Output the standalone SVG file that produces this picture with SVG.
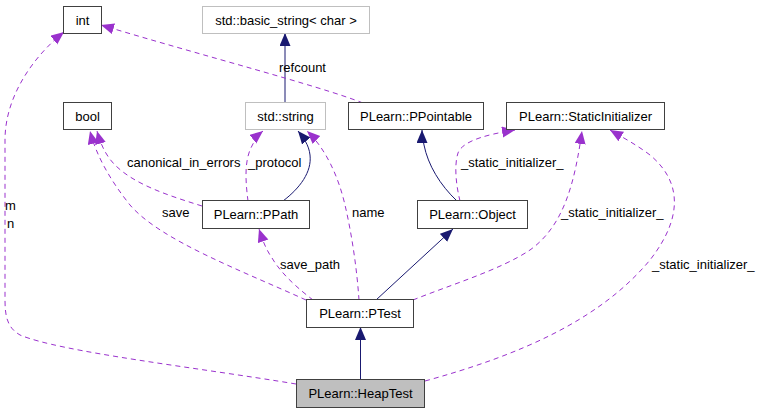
<svg xmlns="http://www.w3.org/2000/svg" width="763" height="413" viewBox="0 0 763 413">
<style>
.n rect{fill:#ffffff;stroke:#404040;stroke-width:1}
.g rect{stroke:#bfbfbf}
.h rect{fill:#bfbfbf;stroke:#404040}
text{font-family:"Liberation Sans",Arial,sans-serif;font-size:13px;fill:#000000}
.n text{text-anchor:middle}
.b{fill:none;stroke:#191970;stroke-width:1}
.p{fill:none;stroke:#9a32cd;stroke-width:1;stroke-dasharray:5,4}
</style>
<defs>
<marker id="ab" markerUnits="userSpaceOnUse" markerWidth="14" markerHeight="12" refX="13" refY="5.5" orient="auto"><path d="M0,0 L13,5.5 L0,11 z" fill="#191970"/></marker>
<marker id="ap" markerUnits="userSpaceOnUse" markerWidth="14" markerHeight="12" refX="13" refY="5.5" orient="auto"><path d="M0,0 L13,5.5 L0,11 z" fill="#9a32cd"/></marker>
</defs>
<g id="edges">
<path class="b" marker-end="url(#ab)" d="M285,103 L285,33"/>
<path class="p" marker-end="url(#ap)" d="M363,103 C320,86 200,55 101,25"/>
<text x="279" y="72">refcount</text>
<path class="p" marker-end="url(#ap)" d="M296,384 C200,368 60,352 20,335 C8,328 5,318 5,300 L5,140 C5,95 35,55 64,32"/>
<text x="5" y="210">m</text>
<text x="7" y="228">n</text>
<path class="p" marker-end="url(#ap)" d="M202,206 C170,196 135,185 115,165 C105,155 100,142 97,131"/>
<text x="127" y="167">canonical_in_errors</text>
<path class="p" marker-end="url(#ap)" d="M306,300 C240,270 160,240 130,205 C110,180 96,155 90,131"/>
<text x="162" y="217">save</text>
<path class="p" marker-end="url(#ap)" d="M248,201 C246,185 244,165 250,150 C254,141 258,135 263,131"/>
<text x="248" y="167">_protocol</text>
<path class="b" marker-end="url(#ab)" d="M283,201 C300,188 312,172 310,155 C309,145 303,137 298,131"/>
<path class="p" marker-end="url(#ap)" d="M359,300 C357,270 352,235 345,205 C338,175 325,148 307,131"/>
<text x="352" y="217">name</text>
<path class="p" marker-end="url(#ap)" d="M313,300 C300,290 282,275 272,258 C265,248 262,238 259,229"/>
<text x="280" y="269">save_path</text>
<path class="b" marker-end="url(#ab)" d="M457,201 C440,185 428,165 424,145 C423,140 422,135 422,130"/>
<path class="p" marker-end="url(#ap)" d="M460,201 C456,185 454,165 458,153 C463,140 490,134 515,130"/>
<text x="461" y="167">_static_initializer_</text>
<path class="p" marker-end="url(#ap)" d="M413,300 C450,285 500,270 530,250 C565,225 575,180 582,131"/>
<text x="561" y="217">_static_initializer_</text>
<path class="p" marker-end="url(#ap)" d="M425,381 C520,355 600,320 650,260 C685,215 680,180 650,155 C637,145 622,137 610,130"/>
<text x="652" y="269">_static_initializer_</text>
<path class="b" marker-end="url(#ab)" d="M376,300 L453,229"/>
<path class="b" marker-end="url(#ab)" d="M360.5,380 L360.5,327"/>
</g>
<g id="int" class="n"><rect x="63.5" y="6.5" width="38" height="27"/><text x="82.5" y="24.5">int</text></g>
<g id="basic_string" class="n g"><rect x="202.5" y="6.5" width="167" height="27"/><text x="286" y="24.5">std::basic_string&lt; char &gt;</text></g>
<g id="bool" class="n"><rect x="63.5" y="102.5" width="48" height="27"/><text x="87.5" y="120.5">bool</text></g>
<g id="std_string" class="n g"><rect x="245.5" y="102.5" width="80" height="27"/><text x="285.5" y="120.5">std::string</text></g>
<g id="PPointable" class="n"><rect x="348.5" y="102.5" width="135" height="27"/><text x="416" y="120.5">PLearn::PPointable</text></g>
<g id="StaticInitializer" class="n"><rect x="506.5" y="102.5" width="158" height="27"/><text x="585.5" y="120.5">PLearn::StaticInitializer</text></g>
<g id="PPath" class="n"><rect x="202.5" y="200.5" width="107" height="28"/><text x="256" y="219">PLearn::PPath</text></g>
<g id="Object" class="n"><rect x="417.5" y="200.5" width="110" height="28"/><text x="472.5" y="219">PLearn::Object</text></g>
<g id="PTest" class="n"><rect x="306.5" y="299.5" width="107" height="28"/><text x="360" y="318">PLearn::PTest</text></g>
<g id="HeapTest" class="n h"><rect x="296.5" y="379.5" width="128" height="28"/><text x="360.5" y="398">PLearn::HeapTest</text></g>
</svg>
